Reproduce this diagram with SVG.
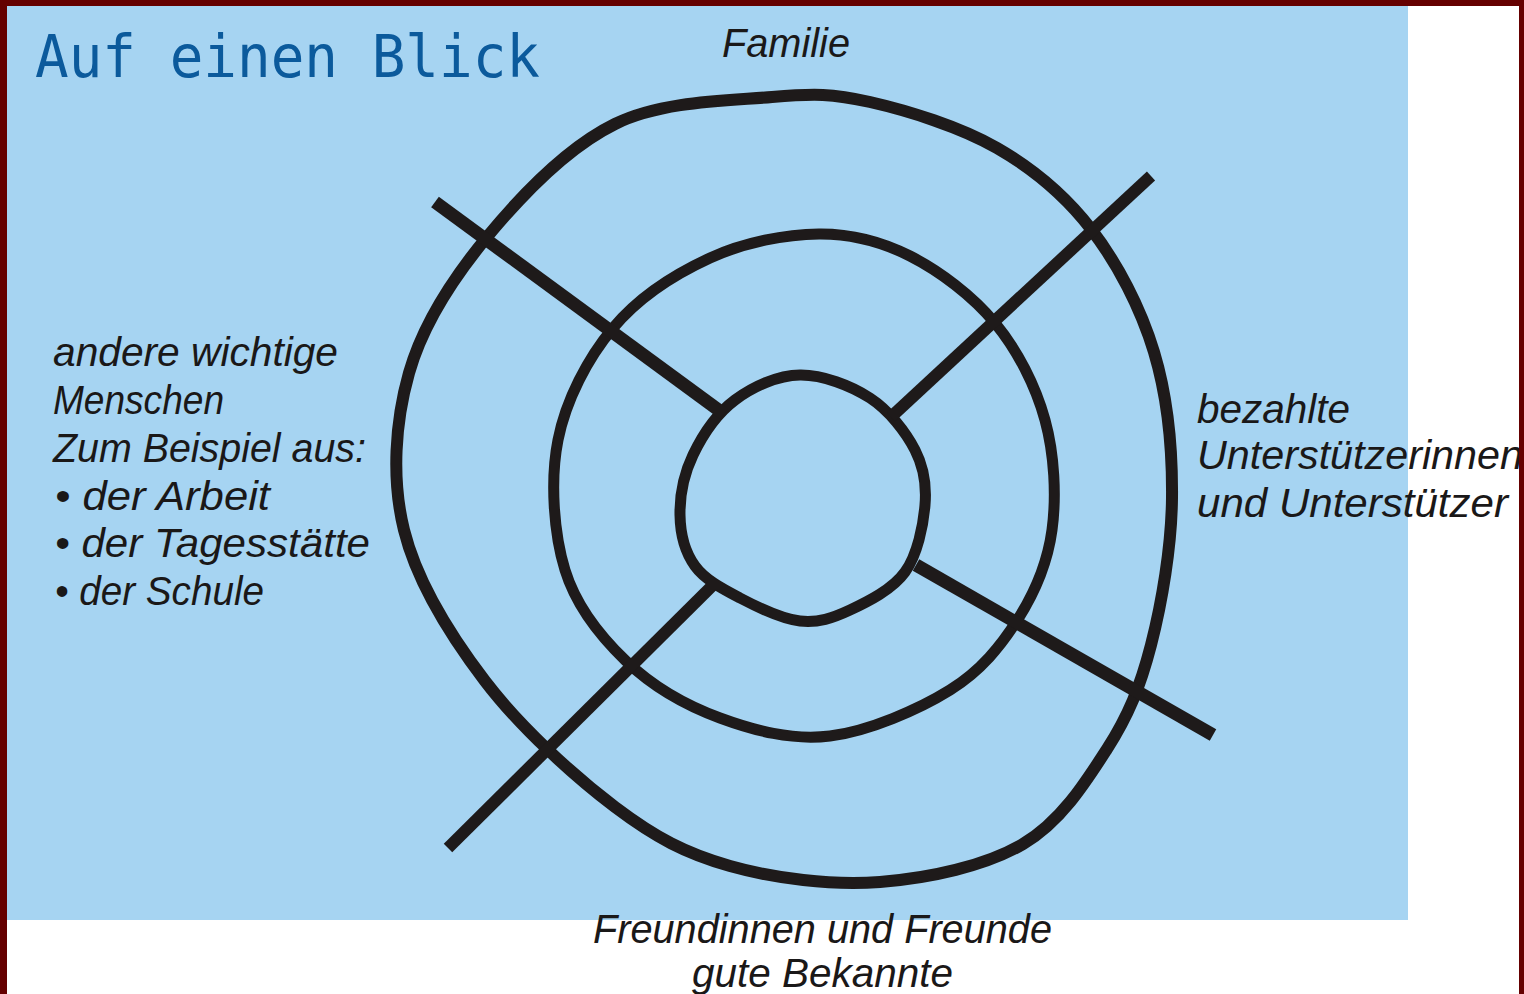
<svg xmlns="http://www.w3.org/2000/svg" width="1524" height="994" viewBox="0 0 1524 994">
<style>
.ring{fill:none;stroke:#1e1a1a;stroke-width:11;stroke-linejoin:round}
.spoke{fill:none;stroke:#1e1a1a;stroke-width:13;stroke-linecap:butt}
.hand{font-family:"Liberation Sans","DejaVu Sans",sans-serif;font-style:italic;font-size:40px;fill:#1a1818}
.title{font-family:"DejaVu Sans Mono","Liberation Mono",monospace;font-size:58px;fill:#0b5a9c}
</style>
<rect x="0" y="0" width="1524" height="994" fill="#ffffff"/>
<rect id="panel" x="7" y="6" width="1401" height="914" fill="#a6d4f2"/>
<g id="title"><text class="title" x="35" y="77" textLength="505" lengthAdjust="spacingAndGlyphs">Auf einen Blick</text></g>
<g id="rings">
<g id="ring-outer"><path class="ring" d="M772,97 C814.5,93.3 832.5,93.5 870,102 C907.5,110.5 960.2,126.8 997,148 C1033.8,169.2 1064.8,195 1091,229 C1117.2,263 1140.5,307.2 1154,352 C1167.5,396.8 1172.5,449.2 1172,498 C1171.5,546.8 1161.8,603.2 1151,645 C1140.2,686.8 1128.3,715.8 1107,749 C1085.7,782.2 1060.8,821.8 1023,844 C985.2,866.2 928.8,878.3 880,882 C831.2,885.7 774.2,878.5 730,866 C685.8,853.5 655.8,837.8 615,807 C574.2,776.2 520.2,727.2 485,681 C449.8,634.8 416.7,581.3 404,530 C391.3,478.7 395.2,421.8 409,373 C422.8,324.2 452.7,278.5 487,237 C521.3,195.5 567.5,147.3 615,124 C662.5,100.7 729.5,100.7 772,97 Z" style="stroke-width:12"/></g>
<g id="ring-middle"><path class="ring" d="M819,234 C852.3,233.7 880.7,241.2 910,256 C939.3,270.8 972.5,295.7 995,323 C1017.5,350.3 1035.5,385.5 1045,420 C1054.5,454.5 1056.5,496.8 1052,530 C1047.5,563.2 1035,592.3 1018,619 C1001,645.7 981.3,670.5 950,690 C918.7,709.5 868.3,731.3 830,736 C791.7,740.7 754,730.5 720,718 C686,705.5 651.8,685.7 626,661 C600.2,636.3 576.3,606.8 565,570 C553.7,533.2 550,480.3 558,440 C566,399.7 587.7,358.3 613,328 C638.3,297.7 675.7,273.7 710,258 C744.3,242.3 785.7,234.3 819,234 Z"/></g>
<g id="ring-inner"><path class="ring" d="M800,375 C822.5,374.7 850.8,385.5 870,398 C889.2,410.5 905.8,432.2 915,450 C924.2,467.8 926.7,484.7 925,505 C923.3,525.3 917.5,554.5 905,572 C892.5,589.5 867.5,601.8 850,610 C832.5,618.2 818.3,623 800,621 C781.7,619 757.5,607.2 740,598 C722.5,588.8 705,579.8 695,566 C685,552.2 680.3,533.5 680,515 C679.7,496.5 683.8,474.2 693,455 C702.2,435.8 717.2,413.3 735,400 C752.8,386.7 777.5,375.3 800,375 Z"/></g>
</g>
<g id="connectors">
<line class="spoke" x1="435" y1="202" x2="724" y2="414"/>
<line class="spoke" x1="1151" y1="176" x2="891" y2="417" style="stroke-width:12"/>
<line class="spoke" x1="916" y1="565" x2="1213" y2="735"/>
<line class="spoke" x1="712" y1="586" x2="448" y2="848" style="stroke-width:12"/>
</g>
<g id="label-familie"><text class="hand" x="722" y="57" textLength="128" lengthAdjust="spacingAndGlyphs">Familie</text></g>
<g id="label-andere">
<text class="hand" x="53" y="366" textLength="285" lengthAdjust="spacingAndGlyphs">andere wichtige</text>
<text class="hand" x="53" y="414" textLength="171" lengthAdjust="spacingAndGlyphs">Menschen</text>
<text class="hand" x="53" y="462" textLength="313" lengthAdjust="spacingAndGlyphs">Zum Beispiel aus:</text>
<text class="hand" x="55" y="510" textLength="215" lengthAdjust="spacingAndGlyphs">• der Arbeit</text>
<text class="hand" x="55" y="557" textLength="315" lengthAdjust="spacingAndGlyphs">• der Tagesstätte</text>
<text class="hand" x="55" y="605" textLength="209" lengthAdjust="spacingAndGlyphs">• der Schule</text>
</g>
<g id="label-bezahlte">
<text class="hand" x="1197" y="423" textLength="153" lengthAdjust="spacingAndGlyphs">bezahlte</text>
<text class="hand" x="1197" y="469" textLength="326" lengthAdjust="spacingAndGlyphs">Unterstützerinnen</text>
<text class="hand" x="1197" y="517" textLength="311" lengthAdjust="spacingAndGlyphs">und Unterstützer</text>
</g>
<g id="label-freunde">
<text class="hand" x="593" y="943" textLength="459" lengthAdjust="spacingAndGlyphs">Freundinnen und Freunde</text>
<text class="hand" x="692" y="987" textLength="261" lengthAdjust="spacingAndGlyphs">gute Bekannte</text>
</g>
<path id="frame" fill="#650000" fill-rule="evenodd" d="M0,0 H1524 V994 H0 Z M7,6 V994 H1519 V6 Z"/>
</svg>
